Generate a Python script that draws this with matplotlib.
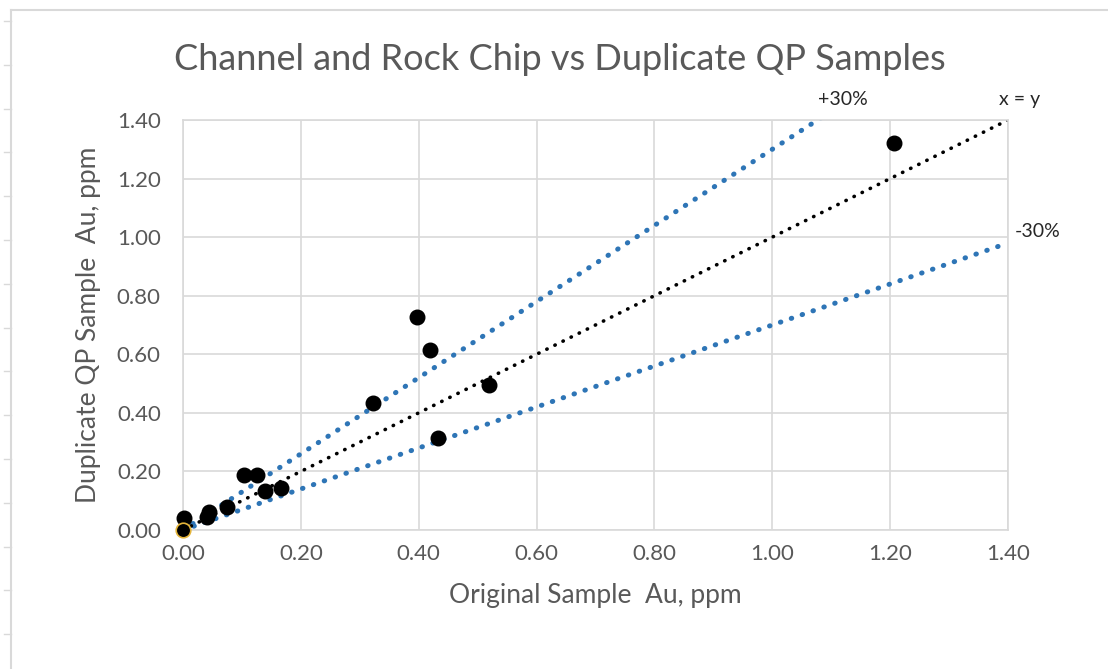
import matplotlib.pyplot as plt
from matplotlib.lines import Line2D
import numpy as np

plt.rcParams['font.family'] = ['Lato', 'DejaVu Sans']

# original vs duplicate Au (ppm)
original = [0.00, 0.002, 0.04, 0.044, 0.075, 0.103, 0.126, 0.139, 0.166,
            0.322, 0.397, 0.419, 0.433, 0.519, 1.206]
duplicate = [0.00, 0.041, 0.045, 0.061, 0.079, 0.188, 0.188, 0.133, 0.143,
             0.434, 0.727, 0.615, 0.314, 0.495, 1.321]

line_x = [0.0, 1.4]
plus30 = [0.0, 1.4 * 1.3]
minus30 = [0.0, 1.4 * 0.7]
ticks = [0.0, 0.2, 0.4, 0.6, 0.8, 1.0, 1.2, 1.4]

grey = '#595959'
blue = '#2E75B6'

fig = plt.figure(figsize=(11.08, 6.69), dpi=100)
ax = fig.add_axes([183 / 1108, 1 - 530 / 669, 825 / 1108, 410 / 669])

dots = dict(linestyle=(0, (0.1, 2.2)), dash_capstyle='round', linewidth=3.6)
ax.plot(line_x, plus30, color=blue, **dots, zorder=2)
ax.plot(line_x, minus30, color=blue, **dots, zorder=2)
ax.plot(line_x, line_x, color='black', linestyle=(0, (0.1, 2.4)),
        dash_capstyle='round', linewidth=2.6, zorder=2)

ax.scatter(original[1:], duplicate[1:], s=110, color='black', zorder=3, clip_on=False)
ax.scatter(original[:1], duplicate[:1], s=110, color='black',
           edgecolor='#E5B53A', linewidth=1.2, zorder=4, clip_on=False)

ax.set_xlim(0, 1.4)
ax.set_ylim(0, 1.4)
ax.set_xticks(ticks)
ax.set_yticks(ticks)
ax.set_xticklabels([f'{t:.2f}' for t in ticks])
ax.set_yticklabels([f'{t:.2f}' for t in ticks])
ax.tick_params(length=0, labelsize=16, colors=grey)
ax.tick_params(axis='y', pad=16)
ax.tick_params(axis='x', pad=10)
ax.grid(True, color='#D9D9D9', linewidth=1.2, zorder=0)
ax.set_axisbelow(True)
for s in ax.spines.values():
    s.set_color('#D9D9D9')
    s.set_linewidth(1.2)

ax.set_xlabel('Original Sample  Au, ppm', fontsize=19, color=grey, labelpad=14)
ax.set_ylabel('Duplicate QP Sample  Au, ppm', fontsize=19, color=grey, labelpad=11)
fig.text(560 / 1108, 1 - 60 / 669, 'Channel and Rock Chip vs Duplicate QP Samples',
         ha='center', va='center', fontsize=26, color=grey)

ax.text(1.077, 1.44, '+30%', fontsize=14, color='#262626', ha='left', va='bottom')
ax.text(1.42, 1.44, 'x = y', fontsize=14, color='#262626', ha='center', va='bottom')
ax.text(1.412, 0.99, '-30%', fontsize=14, color='#262626', ha='left', va='bottom')

# spreadsheet frame behind the chart
fig.add_artist(Line2D([11 / 1108, 11 / 1108], [0, 1 - 10 / 669], color='#D9D9D9', lw=1.5))
fig.add_artist(Line2D([11 / 1108, 1], [1 - 10 / 669, 1 - 10 / 669], color='#D9D9D9', lw=1.5))
for y in np.arange(21, 669, 43.8):
    fig.add_artist(Line2D([4 / 1108, 11 / 1108], [1 - y / 669] * 2, color='#D9D9D9', lw=1))

fig.savefig('out.png', dpi=100)
